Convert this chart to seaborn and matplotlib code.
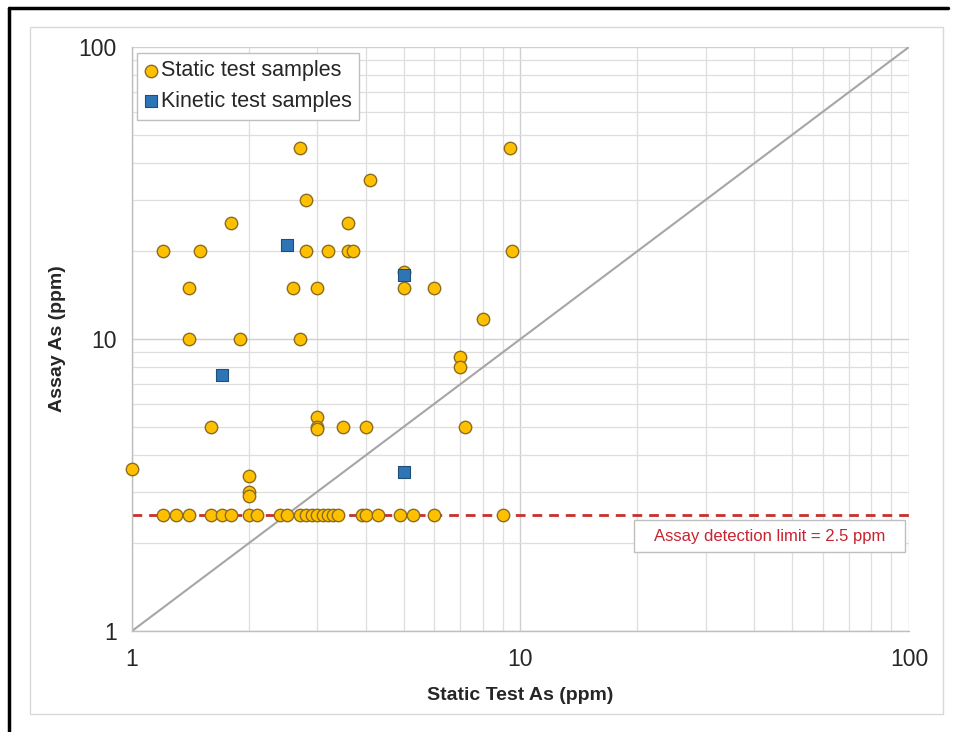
import matplotlib
matplotlib.use("Agg")
import matplotlib.pyplot as plt
import seaborn as sns
import pandas as pd
from matplotlib.lines import Line2D
from matplotlib.patches import Rectangle
from matplotlib.ticker import LogLocator, FixedLocator, NullFormatter

# --- data (ppm) ---
static_x = [1.0, 1.2, 1.4, 1.4, 1.5, 1.6, 1.8, 1.9, 2.0, 2.0, 2.0, 2.6, 2.7, 2.7,
            2.8, 2.8, 3.0, 3.0, 3.0, 3.0, 3.2, 3.5, 3.6, 3.6, 3.7, 4.0, 4.1, 5.0,
            5.0, 6.0, 7.0, 7.0, 7.2, 8.0, 9.4, 9.5,
            # samples sitting on the detection limit
            1.2, 1.3, 1.4, 1.6, 1.7, 1.8, 2.0, 2.1, 2.4, 2.5, 2.7, 2.8, 2.9,
            3.0, 3.1, 3.2, 3.3, 3.4, 3.9, 4.0, 4.3, 4.9, 5.3, 6.0, 9.0]
static_y = [3.6, 20, 15, 10, 20, 5.0, 25, 10, 3.4, 3.0, 2.9, 15, 45, 10,
            30, 20, 15, 5.4, 5.0, 4.9, 20, 5.0, 25, 20, 20, 5.0, 35, 17,
            15, 15, 8.7, 8.0, 5.0, 11.7, 45, 20,
            2.5, 2.5, 2.5, 2.5, 2.5, 2.5, 2.5, 2.5, 2.5, 2.5, 2.5, 2.5, 2.5,
            2.5, 2.5, 2.5, 2.5, 2.5, 2.5, 2.5, 2.5, 2.5, 2.5, 2.5, 2.5]

kinetic_x = [1.7, 2.5, 5.0, 5.0]
kinetic_y = [7.5, 21, 16.5, 3.5]

detection_limit = 2.5
one_to_one = [1, 100]
axis_range = [1, 100]

static_df = pd.DataFrame({"static": static_x, "assay": static_y})
kinetic_df = pd.DataFrame({"static": kinetic_x, "assay": kinetic_y})

sns.set_style("white")
plt.rcParams["font.family"] = ["Liberation Sans", "DejaVu Sans"]

W, H = 954, 732
fig = plt.figure(figsize=(W / 100, H / 100), dpi=100)
ax = fig.add_axes([132 / W, 1 - 631 / H, (909 - 132) / W, (631 - 47) / H])

ax.set_xscale("log")
ax.set_yscale("log")
ax.set_xlim(axis_range)
ax.set_ylim(axis_range)

# grid
ax.xaxis.set_major_locator(FixedLocator([1, 10, 100]))
ax.yaxis.set_major_locator(FixedLocator([1, 10, 100]))
ax.xaxis.set_minor_locator(LogLocator(base=10, subs=range(2, 10)))
ax.yaxis.set_minor_locator(LogLocator(base=10, subs=range(2, 10)))
ax.xaxis.set_minor_formatter(NullFormatter())
ax.yaxis.set_minor_formatter(NullFormatter())
ax.set_xticklabels(["1", "10", "100"])
ax.set_yticklabels(["1", "10", "100"])
ax.grid(True, which="major", color="#cfcfcf", lw=1.0)
ax.grid(True, which="minor", color="#dedede", lw=0.9)
ax.set_axisbelow(True)

# 1:1 line and detection limit
ax.plot(one_to_one, one_to_one, color="#a6a6a6", lw=1.5, zorder=1.5)
ax.axhline(detection_limit, color="#c9302c", lw=2, ls=(0, (3.5, 2.5)), zorder=1.6)

sns.scatterplot(data=static_df, x="static", y="assay", ax=ax, s=80,
                color="#ffc000", edgecolor="#8c6d1f", linewidth=1.0,
                marker="o", label="Static test samples", zorder=3, clip_on=False)
sns.scatterplot(data=kinetic_df, x="static", y="assay", ax=ax, s=80,
                color="#2e75b6", edgecolor="#1f4e79", linewidth=0.8,
                marker="s", label="Kinetic test samples", zorder=4, clip_on=False)

for s in ["top", "right"]:
    ax.spines[s].set_visible(False)
for s in ["left", "bottom"]:
    ax.spines[s].set_color("#bfbfbf")
    ax.spines[s].set_linewidth(1.0)

ax.tick_params(axis="both", which="major", length=6, width=1, color="#bfbfbf",
               labelsize=16.5, labelcolor="#262626", direction="out")
ax.tick_params(axis="x", which="major", pad=6)
ax.tick_params(axis="y", which="major", pad=5)
ax.tick_params(axis="both", which="minor", length=0)

ax.set_xlabel("Static Test As (ppm)", fontsize=14, fontweight="bold",
              color="#262626", labelpad=12)
ax.set_ylabel("Assay As (ppm)", fontsize=14, fontweight="bold",
              color="#262626", labelpad=9)

leg = ax.legend(loc="upper left", bbox_to_anchor=(0.0065, 0.99), fontsize=15.5,
                frameon=True, fancybox=False, framealpha=1, edgecolor="#bfbfbf",
                handletextpad=0.2, handlelength=0.55, borderpad=0.35,
                borderaxespad=0.0, labelspacing=0.45, markerscale=1.0)
leg.get_frame().set_linewidth(1.0)
for t in leg.get_texts():
    t.set_color("#262626")

# detection limit label box
ax.add_patch(Rectangle((0.646, 0.135), 0.349, 0.055, transform=ax.transAxes,
                       facecolor="white", edgecolor="#bfbfbf", lw=1.0, zorder=5))
ax.text(0.8205, 0.1625, "Assay detection limit = 2.5 ppm", transform=ax.transAxes,
        ha="center", va="center", fontsize=12, color="#c8232f", zorder=6)

# chart-area border and outer black frame
fig.patches.append(Rectangle((30 / W, 1 - 714 / H), (943 - 30) / W, (714 - 27) / H,
                             transform=fig.transFigure, fill=False,
                             edgecolor="#d9d9d9", lw=1.0))
fig.lines.append(Line2D([9 / W, 9 / W], [0, 1 - 8 / H], transform=fig.transFigure,
                        color="black", lw=2.5))
fig.lines.append(Line2D([9 / W, 948 / W], [1 - 8 / H, 1 - 8 / H],
                        transform=fig.transFigure, color="black", lw=2.5))

fig.savefig("out.png", dpi=100)
